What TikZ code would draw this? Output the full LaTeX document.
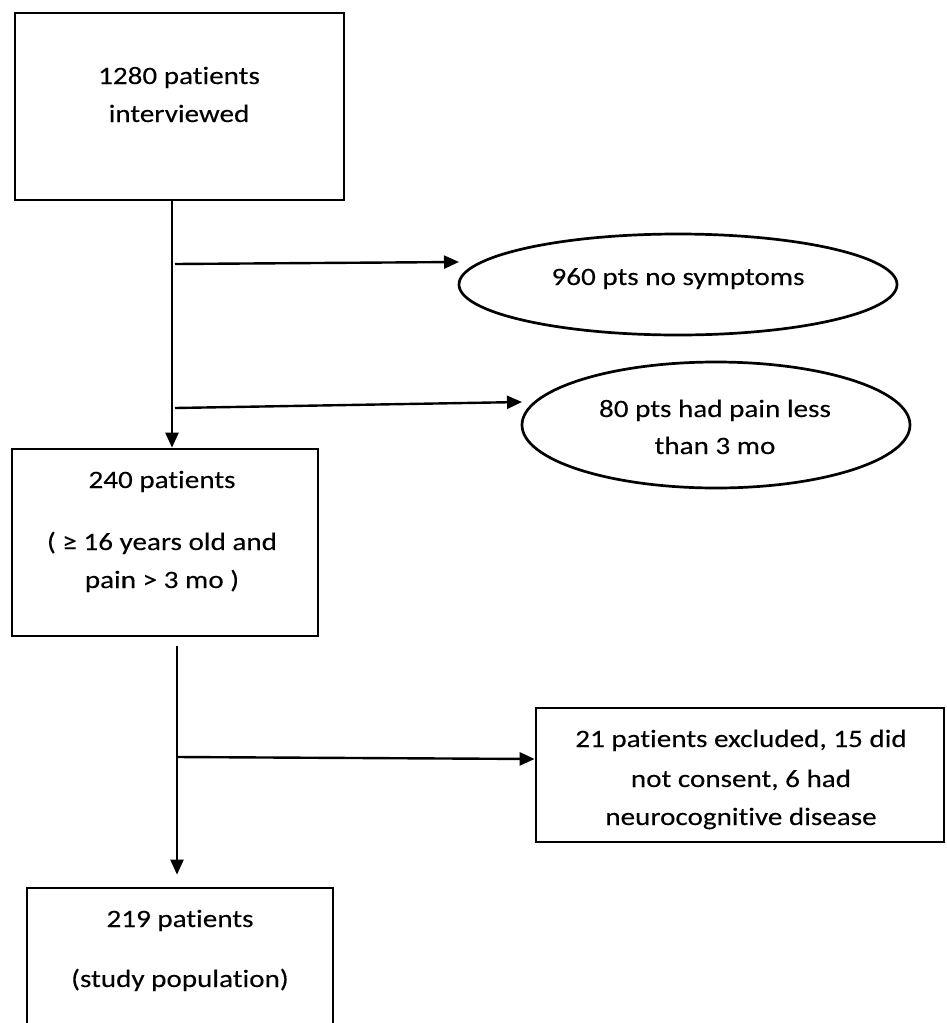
\documentclass[tikz,border=0pt]{standalone}
\usepackage{fontspec}
\setmainfont{Carlito}[FakeStretch=1.165, FakeBold=0.15, Ligatures={NoCommon}]
\usetikzlibrary{shapes.geometric,arrows.meta}
\tikzset{
  box/.style={draw=black, line width=2.7pt, rectangle, inner sep=0pt, fill=none},
  ell/.style={draw=black, line width=2.7pt, ellipse, inner sep=0pt},
  txt/.style={anchor=base, inner sep=0pt, font=\fontsize{25}{30}\selectfont},
  arr/.style={line width=2.4pt, -{Triangle[length=15pt,width=13pt]}}
}
\begin{document}
\begin{tikzpicture}[x=1pt,y=-1pt]
\clip (0,0) rectangle (946,1023);
\fill[white] (0,0) rectangle (946,1023);
% shapes
\node[box, minimum width=329pt, minimum height=187pt] (b1) at (179.5,106.5) {};
\node[box, minimum width=306pt, minimum height=187pt] (b2) at (165,542.5) {};
\node[box, minimum width=408pt, minimum height=134pt] (b3) at (740,775) {};
\node[box, minimum width=306pt, minimum height=200pt] (b4) at (180,988) {};
\node[ell, minimum width=438pt, minimum height=101pt] (e1) at (678,284.5) {};
\node[ell, minimum width=388pt, minimum height=126pt] (e2) at (716,425) {};
% texts
\node[txt] (t1a) at (179,84) {1280 patients};
\node[txt] (t1b) at (179,122) {interviewed};
\node[txt] (t2a) at (162,488) {240 patients};
\node[txt] (t2b) at (162,550) {( ≥ 16 years old and};
\node[txt] (t2c) at (162,588) {pain > 3 mo )};
\node[txt] (t3a) at (741,747) {21 patients excluded, 15 did};
\node[txt] (t3b) at (741,787) {not consent, 6 had};
\node[txt] (t3c) at (741,825) {neurocognitive disease};
\node[txt] (t4a) at (180,927) {219 patients};
\node[txt] (t4b) at (180,987) {(study population)};
\node[txt] (te1) at (678,285) {960 pts no symptoms};
\node[txt] (te2a) at (715,417) {80 pts had pain less};
\node[txt] (te2b) at (715,454) {than 3 mo};
% connector points
\coordinate (s1) at (175,264);
\coordinate (f1) at (459,262);
\coordinate (s2) at (175,408);
\coordinate (f2) at (522,402);
\coordinate (v2top) at (177,646);
\coordinate (s3) at (177,757);
% connectors
\draw[arr] ([xshift=-7.5pt]b1.south) -- ([xshift=7pt]b2.north);
\draw[arr] (s1) -- (f1);
\draw[arr] (s2) -- (f2);
\draw[arr] (v2top) -- ([yshift=12pt]b4.north -| v2top);
\draw[arr] (s3) -- ([yshift=16pt]b3.west);
\end{tikzpicture}
\end{document}
